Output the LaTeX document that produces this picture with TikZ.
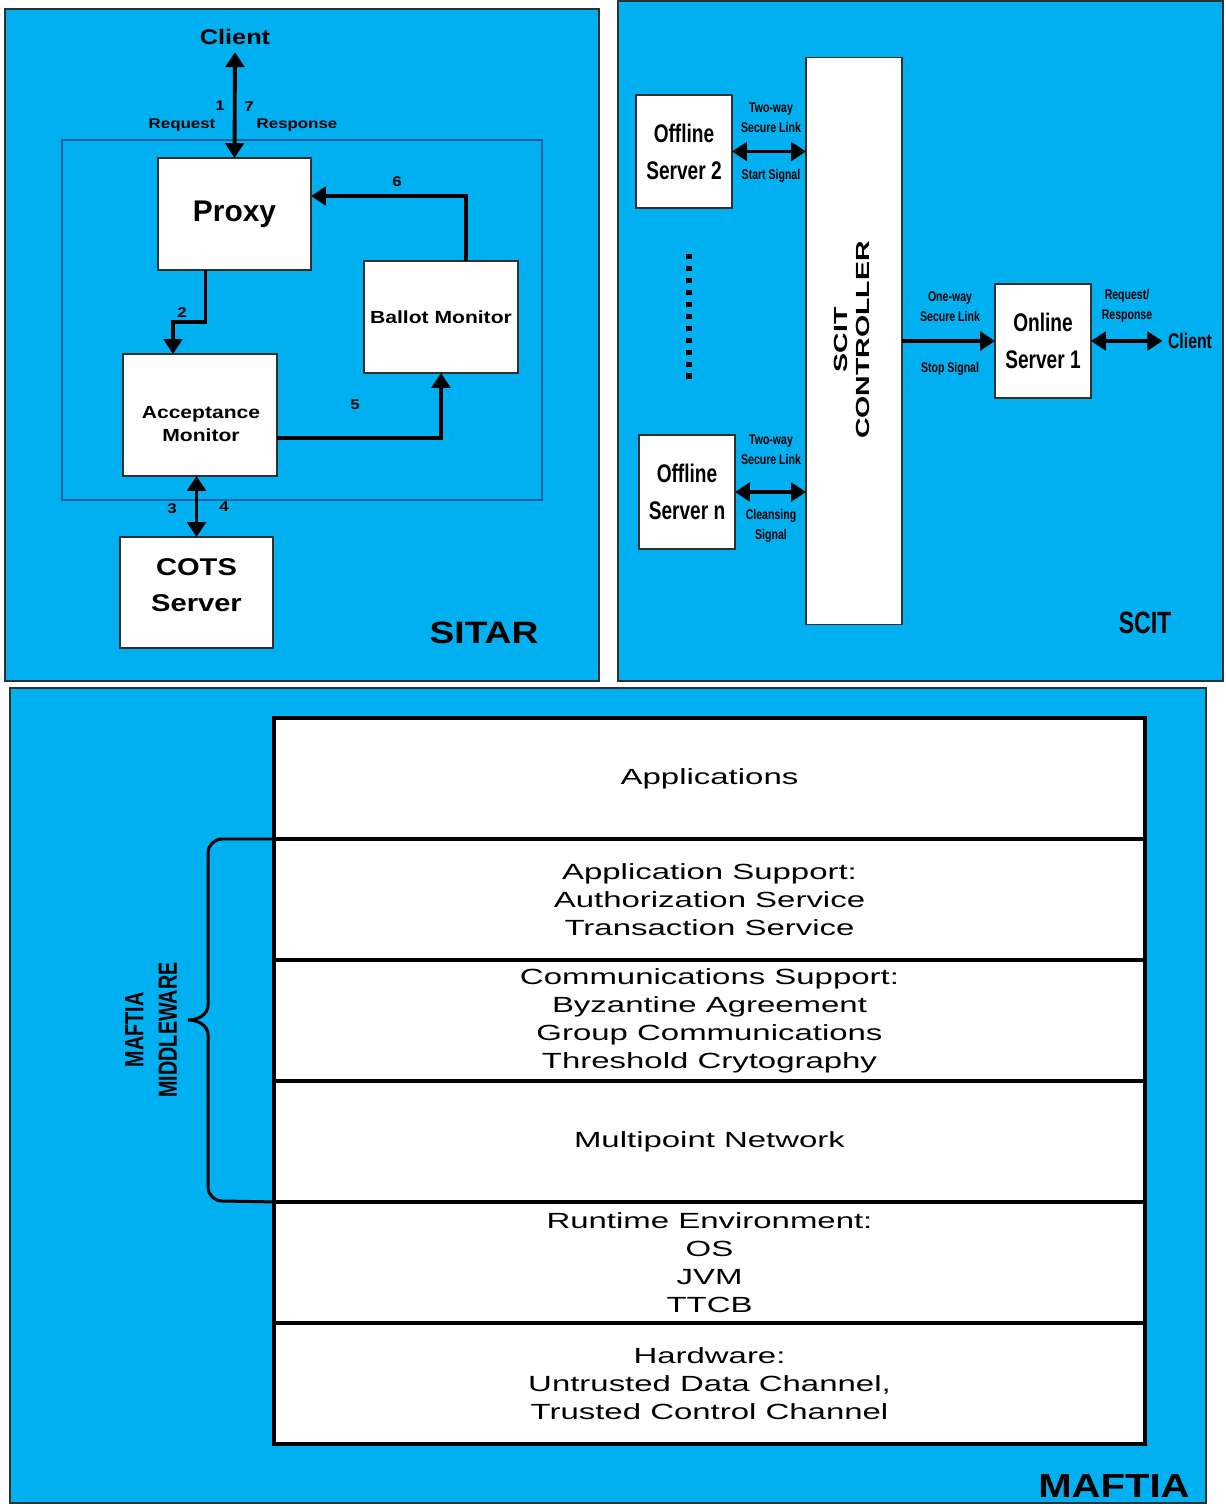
\documentclass[tikz,border=0pt]{standalone}
\usepackage{fontspec}
\setmainfont{Liberation Sans}
\newfontfamily\widefont[FakeStretch=1.2]{Liberation Sans}
\newfontfamily\xwidefont[FakeStretch=1.5]{Liberation Sans}
\newfontfamily\narrowfont[FakeStretch=0.75]{Liberation Sans}
\usetikzlibrary{positioning,arrows.meta,calc}
\definecolor{panelblue}{HTML}{00B0F0}
\definecolor{framegray}{HTML}{303030}
\definecolor{innerblue}{HTML}{1F5FA0}

\begin{document}
\begin{tikzpicture}[x=0.02cm,y=-0.02cm,>={Triangle[length=8.5pt,width=10.5pt]},
    panel/.style={fill=panelblue,draw=framegray,line width=0.6pt},
    box/.style={draw=framegray,fill=white,line width=0.6pt,align=center,inner sep=0pt,outer sep=0pt},
    flow/.style={line width=2.2pt},
    num/.style={font=\widefont\bfseries\fontsize{8}{10}\selectfont,inner sep=0pt},
    sitar label/.style={font=\widefont\bfseries\fontsize{10}{13.6}\selectfont},
    scit box/.style={box,minimum width=1.92cm,font=\narrowfont\bfseries\fontsize{14.5}{21}\selectfont},
    scit label/.style={font=\narrowfont\bfseries\fontsize{8}{11.3}\selectfont,align=center,inner sep=0pt},
    layer/.style={draw,fill=white,line width=2pt,minimum width=17.42cm,minimum height=2.42cm,
        align=center,inner sep=0pt,outer sep=0pt,font=\xwidefont\fontsize{12.5}{15.9}\selectfont}]

    \useasboundingbox (0,0) rectangle (1225,1504);

    % panels
    \draw[panel] (5,9) rectangle (599,681);
    \draw[panel] (618,1) rectangle (1223,681);
    \draw[panel] (10,688) rectangle (1206,1503);

    % SITAR
    \draw[innerblue,line width=0.6pt] (62,140) rectangle (542,500);
    \node[font=\widefont\bfseries\fontsize{12}{14}\selectfont,inner sep=0pt] (client) at (235,37) {Client};
    \node[box,minimum width=3.06cm,minimum height=2.24cm,font=\bfseries\fontsize{17}{20}\selectfont] (proxy) at (234.5,214) {Proxy};
    \node[box,minimum width=3.08cm,minimum height=2.24cm,sitar label] (ballot) at (441,317) {Ballot Monitor};
    \node[box,minimum width=3.08cm,minimum height=2.44cm] (accept) at (200,415) {};
    \node[sitar label,align=center] (accepttext) at (201,424) {Acceptance\\Monitor};
    \node[box,minimum width=3.06cm,minimum height=2.22cm] (cots) at (196.5,592.5) {};
    \node[font=\widefont\bfseries\fontsize{13.8}{20.4}\selectfont,align=center] (cotstext) at (196.5,585) {COTS\\Server};
    \node[font=\widefont\bfseries\fontsize{17.6}{20}\selectfont] (sitar) at (484,633) {SITAR};

    \draw[flow,<->] ([yshift=-4pt]client.south) -- (proxy.north);
    \draw[flow,->] ([xshift=-0.58cm]proxy.south) -- ++(0,52) -| ([xshift=-0.54cm]accept.north);
    \draw[flow,->] ([yshift=-0.46cm]accept.east) -| (ballot.south);
    \draw[flow,->] ([xshift=0.5cm]ballot.north) |- ([yshift=0.36cm]proxy.east);
    \draw[flow,<->] (accept.south -| cots.north) -- (cots.north);

    \node[num] (n1) at (220,106) {1};
    \node[num] (n7) at (249,107) {7};
    \node[num] (request) at (182,125) {Request};
    \node[num] (response) at (297,125) {Response};
    \node[num] (n2) at (182,313) {2};
    \node[num] (n5) at (355,405) {5};
    \node[num] (n6) at (397,182) {6};
    \node[num] (n3) at (172,509) {3};
    \node[num] (n4) at (224,507) {4};

    % SCIT
    \node[scit box,minimum height=2.26cm] (off2) at (684,151.5) {Offline\\Server 2};
    \node[scit box,minimum height=2.28cm] (offn) at (687,492) {Offline\\Server n};
    \node[scit box,minimum height=2.28cm] (online) at (1043,341) {Online\\Server 1};
    \node[box,minimum width=1.92cm,minimum height=11.36cm] (ctrl) at (854,341) {};
    \node[rotate=90,align=center,font=\xwidefont\bfseries\fontsize{10.8}{13}\selectfont] (ctrltext) at (852,340) {SCIT\\CONTROLLER};
    \node[font=\narrowfont\bfseries\fontsize{12}{14}\selectfont,inner sep=0pt] (client2) at (1190,341) {Client};
    \node[font=\narrowfont\bfseries\fontsize{17.5}{20}\selectfont] (scit) at (1145,623) {SCIT};

    \draw[flow,<->] (off2.east) -- (off2.east -| ctrl.west);
    \draw[flow,<->] (offn.east) -- (offn.east -| ctrl.west);
    \draw[flow,->] (ctrl.east |- online.west) -- (online.west);
    \draw[flow,<->] (online.east) -- ([xshift=-3pt]client2.west);
    \draw[line width=3pt,dash pattern=on 3pt off 3.8pt] (689,254) -- (689,380);

    \node[scit label] (link2) at (771,118) {Two-way\\Secure Link};
    \node[scit label] (start) at (771,176) {Start Signal};
    \node[scit label] (linkn) at (771,450) {Two-way\\Secure Link};
    \node[scit label] (cleanse) at (771,526) {Cleansing\\Signal};
    \node[scit label] (link1) at (950,307) {One-way\\Secure Link};
    \node[scit label] (stop) at (950,369) {Stop Signal};
    \node[scit label] (reqresp) at (1127,306) {Request/\\Response};

    % MAFTIA
    \node[layer] (app) at (709.5,778.5) {Applications};
    \node[layer,below=0pt of app] (appsup) {Application Support:\\Authorization Service\\Transaction Service};
    \node[layer,below=0pt of appsup] (comm) {Communications Support:\\Byzantine Agreement\\Group Communications\\Threshold Crytography};
    \node[layer,below=0pt of comm] (net) {Multipoint Network};
    \node[layer,below=0pt of net] (runtime) {Runtime Environment:\\OS\\JVM\\TTCB};
    \node[layer,below=0pt of runtime] (hw) {Hardware:\\Untrusted Data Channel,\\Trusted Control Channel};

    \draw[line width=1.7pt] (appsup.north west) -- ++(-52,0) to[out=180,in=90] ++(-14,14) -- ++(0,152)
        to[out=-90,in=0] ++(-20,15) to[out=0,in=90] ++(20,15) -- ++(0,152)
        to[out=-90,in=180] ++(14,14) -- (net.south west);
    \node[rotate=90,align=center,font=\narrowfont\bfseries\fontsize{15}{19}\selectfont] (middleware) at (151,1030) {MAFTIA\\MIDDLEWARE};
    \node[font=\widefont\bfseries\fontsize{19}{22}\selectfont] (maftia) at (1114,1486) {MAFTIA};
\end{tikzpicture}
\end{document}
